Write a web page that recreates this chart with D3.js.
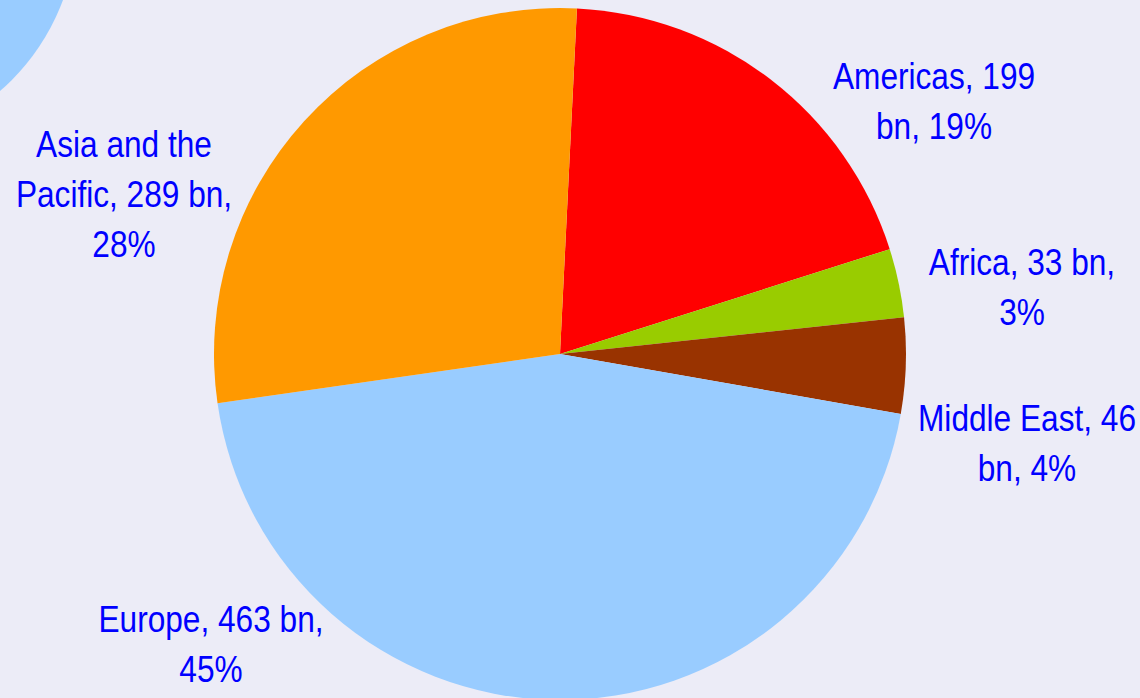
<!DOCTYPE html>
<html>
<head>
<meta charset="utf-8">
<script src="https://cdn.jsdelivr.net/npm/d3@7"></script>
<style>
  html, body { margin: 0; padding: 0; background: #ececf7; overflow: hidden; }
  .label { font-family: "Liberation Sans", Arial, sans-serif; font-size: 37px; fill: #0000ff; }
</style>
</head>
<body>
<div class="chart"></div>
<script>
// regions in drawing order (clockwise from the top)
const regions = ["Americas", "Africa", "Middle East", "Europe", "Asia and the Pacific"]
const values = [199, 33, 46, 463, 289]   // bn
const colors = ["#ff0000", "#99cc00", "#993300", "#99ccff", "#ff9900"]

// how each data label is wrapped, and where it sits (label centre x, first baseline y)
const labelBreaks = [
    ["Americas, 199", "bn, 19%"],
    ["Africa, 33 bn,", "3%"],
    ["Middle East, 46", "bn, 4%"],
    ["Europe, 463 bn,", "45%"],
    ["Asia and the", "Pacific, 289 bn,", "28%"]
]
const labelPos = [[934, 89], [1022, 275], [1027, 431], [211, 632], [124, 157]]

const width = 1140, height = 698
const cx = 560, cy = 354, radius = 346

const svg = d3.select(".chart").append("svg")
    .attr("width", width)
    .attr("height", height)

svg.append("rect")
    .attr("width", width)
    .attr("height", height)
    .attr("fill", "#ececf7")

// piece of the neighbouring chart peeking in at the top left
svg.append("circle")
    .attr("cx", -147)
    .attr("cy", -78)
    .attr("r", 224)
    .attr("fill", "#99ccff")

const data = regions.map((r, i) => ({region: r, value: values[i], color: colors[i]}))
const total = d3.sum(values)

const pie = d3.pie()
    .sort(null)
    .value(d => d.value)
    .startAngle(0.049)
    .endAngle(0.049 + 2 * Math.PI)

const arc = d3.arc().innerRadius(0).outerRadius(radius)

const g = svg.append("g")
    .attr("transform", `translate(${cx},${cy})`)

g.selectAll("path")
    .data(pie(data))
    .enter()
    .append("path")
    .attr("d", arc)
    .attr("fill", d => d.data.color)

// check the label text against the data
const pct = d3.format(".0f")
data.forEach((d, i) => {
    const txt = `${d.region}, ${d.value} bn, ${pct(d.value / total * 100)}%`
    if (labelBreaks[i].join(" ") !== txt) console.log("label mismatch", txt)
})

const lineH = 50
const labels = svg.selectAll("g.lab")
    .data(data)
    .enter()
    .append("g")
    .attr("class", "lab")
    .attr("transform", (d, i) => `translate(${labelPos[i][0]},${labelPos[i][1]}) scale(0.855,1)`)

labels.each(function(d, i) {
    const t = d3.select(this)
    labelBreaks[i].forEach((line, j) => {
        t.append("text")
            .attr("class", "label")
            .attr("text-anchor", "middle")
            .attr("y", j * lineH)
            .text(line)
    })
})
</script>
</body>
</html>
